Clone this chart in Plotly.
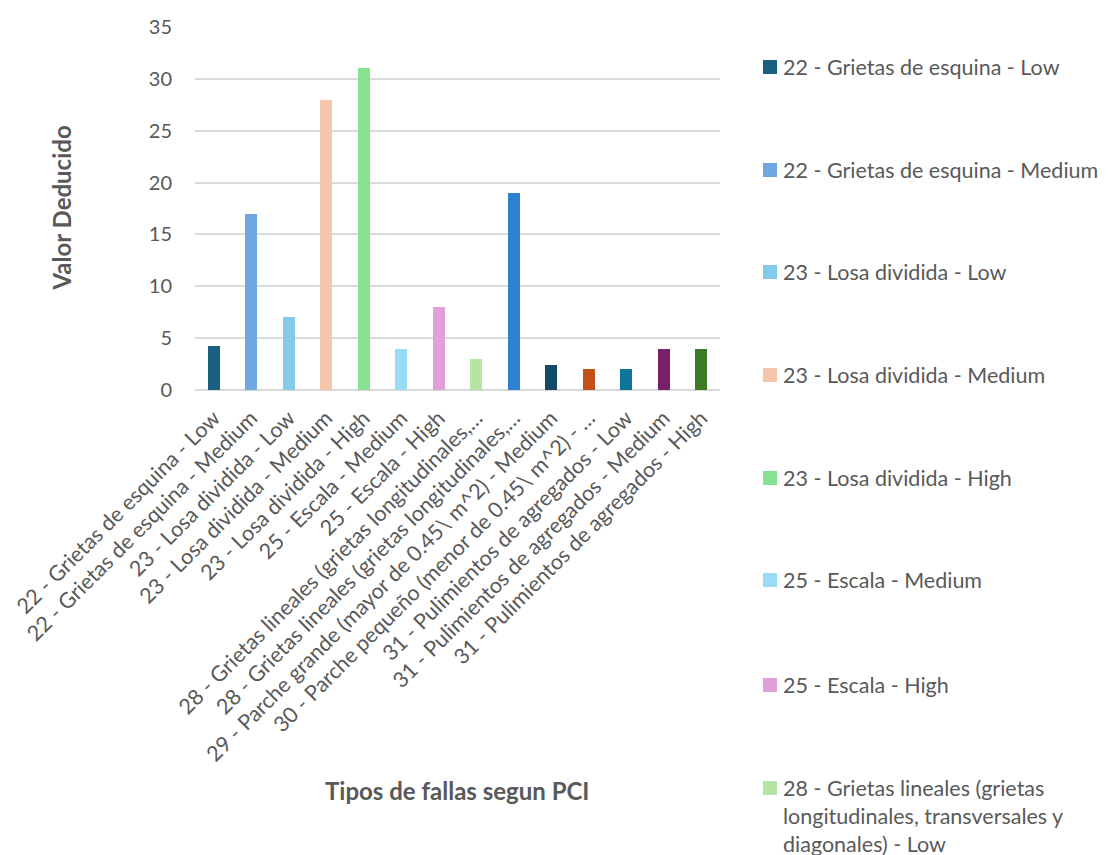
import plotly.graph_objects as go

# Bar categories as shown on the x axis (long names are shortened with an ellipsis)
tick_labels = [
    "22 - Grietas de esquina - Low",
    "22 - Grietas de esquina - Medium",
    "23 - Losa dividida - Low",
    "23 - Losa dividida - Medium",
    "23 - Losa dividida - High",
    "25 - Escala - Medium",
    "25 - Escala - High",
    "28 - Grietas lineales (grietas longitudinales,…",
    "28 - Grietas lineales (grietas longitudinales,…",
    "29 - Parche grande (mayor de 0.45\\ m^2) - Medium",
    "30 - Parche pequeño (menor de 0.45\\ m^2) - …",
    "31 - Pulimientos de agregados - Low",
    "31 - Pulimientos de agregados - Medium",
    "31 - Pulimientos de agregados - High",
]

# Deduct value of each distress type
valores = [4.2, 17, 7, 28, 31, 4, 8, 3, 19, 2.4, 2, 2, 4, 4]

colores = [
    "#1B6082", "#71A7DF", "#84CBEA", "#F5C6AC", "#87E190", "#98DCF5", "#E39FDA",
    "#B6E4A2", "#2E81CF", "#124A65", "#C25119", "#0F7499", "#78206A", "#3D7A26",
]

# Legend entries that fit in the chart area
legend_labels = [
    "22 - Grietas de esquina - Low",
    "22 - Grietas de esquina - Medium",
    "23 - Losa dividida - Low",
    "23 - Losa dividida - Medium",
    "23 - Losa dividida - High",
    "25 - Escala - Medium",
    "25 - Escala - High",
    "28 - Grietas lineales (grietas<br>longitudinales, transversales y<br>diagonales) - Low",
]

FONT = "Lato"
GRAY = "#595959"
W, H = 1110, 855
PL, PR, PT, PB = 195, 720, 27, 390  # plot area in pixels
TXT = 21.5

fig = go.Figure()
for i, (v, c) in enumerate(zip(valores, colores)):
    fig.add_trace(go.Bar(
        x=[i], y=[v], width=0.33, marker=dict(color=c, line=dict(width=0)),
        name=tick_labels[i], showlegend=False,
    ))


def px_x(px):
    return (px - PL) / (PR - PL)


def px_y(py):
    return (PB - py) / (PB - PT)


# Legend drawn as squares plus text
legend_y = [67, 170, 272, 375, 478, 580, 685, 788]
for lab, col, yc in zip(legend_labels, colores, legend_y):
    fig.add_shape(type="rect", xref="paper", yref="paper",
                  x0=px_x(763), x1=px_x(777), y0=px_y(yc + 7), y1=px_y(yc - 7),
                  fillcolor=col, line=dict(width=0))
    fig.add_annotation(xref="paper", yref="paper", x=px_x(781), y=px_y(yc - 15),
                       xanchor="left", yanchor="top", align="left", showarrow=False,
                       text=lab, font=dict(family=FONT, size=TXT, color=GRAY))

fig.update_layout(
    width=W, height=H,
    margin=dict(l=PL, r=W - PR, t=PT, b=H - PB, autoexpand=False),
    paper_bgcolor="white", plot_bgcolor="white",
    bargap=0, showlegend=False,
    font=dict(family=FONT, color=GRAY, size=TXT),
)
fig.update_xaxes(
    range=[-0.5, 13.5], tickmode="array", tickvals=list(range(14)), ticktext=tick_labels,
    tickangle=-45, showgrid=False, zeroline=False, showline=False,
    ticks="outside", ticklen=6, tickcolor="rgba(0,0,0,0)",
    tickfont=dict(family=FONT, size=TXT, color=GRAY), automargin=False,
)
fig.update_yaxes(
    range=[0, 35], dtick=5, showgrid=True, gridcolor="#D9D9D9", gridwidth=1.5,
    zeroline=True, zerolinecolor="#D9D9D9", zerolinewidth=1.5, showline=False,
    ticks="outside", ticklen=18, tickcolor="rgba(0,0,0,0)",
    tickfont=dict(family=FONT, size=20, color=GRAY), automargin=False,
)

# Axis titles at fixed positions
fig.add_annotation(xref="paper", yref="paper", x=px_x(457), y=px_y(807),
                   text="<b>Tipos de fallas segun PCI</b>", showarrow=False,
                   font=dict(family=FONT, size=24, color=GRAY))
fig.add_annotation(xref="paper", yref="paper", x=px_x(44), y=px_y(208),
                   text="<b>Valor Deducido</b>", showarrow=False, textangle=-90,
                   font=dict(family=FONT, size=24, color=GRAY))

fig.write_html("out.html")
